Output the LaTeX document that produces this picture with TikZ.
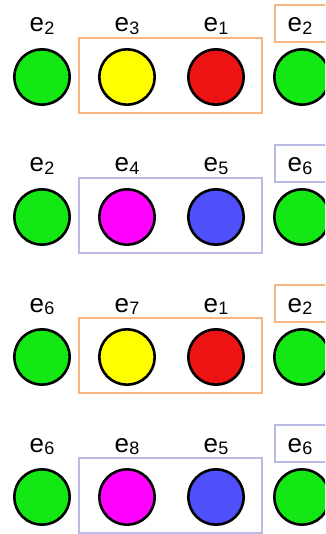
\documentclass[tikz,border=0pt]{standalone}
\usepackage{fontspec}
\setmainfont{Liberation Sans}
\definecolor{grn}{RGB}{20,232,20}
\definecolor{yel}{RGB}{255,255,0}
\definecolor{red}{RGB}{238,20,20}
\definecolor{mag}{RGB}{255,0,255}
\definecolor{blu}{RGB}{80,80,250}
\definecolor{boxorange}{RGB}{245,182,132}
\definecolor{boxlilac}{RGB}{186,186,230}
\newcommand{\ename}[1]{e\kern0.5pt\raisebox{-2.5pt}{\fontsize{18}{18}\selectfont #1}}
\tikzset{
  dot/.style={circle, draw=black, line width=2.6pt, minimum size=55.4pt, inner sep=0pt},
  lab/.style={anchor=base, inner sep=0pt},
  grp/.style={line width=1.7pt}
}
\begin{document}
\begin{tikzpicture}[x=1pt, y=-1pt, every node/.style={font=\fontsize{26}{26}\selectfont}]
  \useasboundingbox (0,0) rectangle (325,534);
  \clip (0,0) rectangle (325,534);
  % one row per step: left, pair in the box, right
  \foreach \row/\ea/\eb/\ec/\ed/\cb/\cc/\bx in
      {0/2/3/1/2/yel/red/boxorange, 1/2/4/5/6/mag/blu/boxlilac,
       2/6/7/1/2/yel/red/boxorange, 3/6/8/5/6/mag/blu/boxlilac} {
    \pgfmathsetmacro{\cy}{77+140*\row}
    \node[dot, fill=grn]  (left\row)  at (42,\cy)  {};
    \node[dot, fill=\cb]  (first\row) at (127,\cy) {};
    \node[dot, fill=\cc]  (second\row) at (216,\cy) {};
    \node[dot, fill=grn]  (right\row) at (302,\cy) {};
    \node[lab] (lleft\row)   at (42,\cy-45)  {\ename{\ea}};
    \node[lab] (lfirst\row)  at (127,\cy-45) {\ename{\eb}};
    \node[lab] (lsecond\row) at (216,\cy-45) {\ename{\ec}};
    \node[lab] (lright\row)  at (300,\cy-45) {\ename{\ed}};
    \draw[grp, draw=\bx] (79,\cy-39) rectangle (262,\cy+36);
    \draw[grp, draw=\bx] (275,\cy-72) rectangle (340,\cy-35);
  }
\end{tikzpicture}
\end{document}
